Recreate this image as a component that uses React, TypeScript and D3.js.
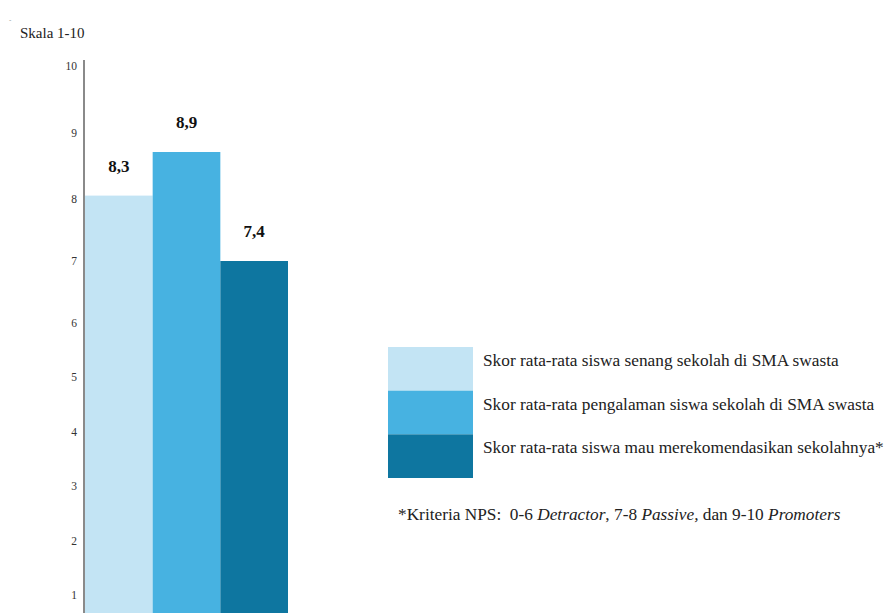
import React from "react";
import * as d3 from "d3";

const categories = ["senang", "pengalaman", "rekomendasi"];
const values = [8.3, 8.9, 7.4];
const valueLabels = ["8,3", "8,9", "7,4"];
const colors = ["#c3e4f4", "#47b2e1", "#0e76a0"];
const legendLabels = [
  "Skor rata-rata siswa senang sekolah di SMA swasta",
  "Skor rata-rata pengalaman siswa sekolah di SMA swasta",
  "Skor rata-rata siswa mau merekomendasikan sekolahnya*",
];
const tickValues = [1, 2, 3, 4, 5, 6, 7, 8, 9, 10];

const W = 887;
const H = 613;
const FONT = "Liberation Serif, DejaVu Serif, serif";

export default function App() {
  const x = d3.scaleBand<string>().domain(categories).range([85, 288]).padding(0);
  // bar value scale (fitted to the bar heights)
  const y = d3.scaleLinear().domain([7.4, 8.9]).range([261, 152]);
  // axis tick placement as drawn in the source image
  const yAxis = d3.scaleLinear().domain([1, 6, 8, 10]).range([595, 323, 199, 66]);
  const legendY = d3.scaleBand<string>().domain(categories).range([347, 478]).padding(0);

  return (
    <svg
      width={W}
      height={H}
      style={{ position: "absolute", left: 0, top: 0, background: "#fff", fontFamily: FONT }}
    >
      <rect width={W} height={H} fill="#fff" />
      <text x={9} y={22} fontSize={7} fill="#888">-</text>
      <text x={20} y={38} fontSize={15} fill="#222">Skala 1-10</text>

      {categories.map((c, i) => (
        <rect
          key={c}
          x={x(c)!}
          y={y(values[i])}
          width={x.bandwidth()}
          height={y(0) - y(values[i])}
          fill={colors[i]}
        />
      ))}
      {categories.map((c, i) => (
        <text
          key={c + "l"}
          x={x(c)! + x.bandwidth() / 2}
          y={y(values[i]) - 24}
          textAnchor="middle"
          fontSize={17}
          fontWeight="bold"
          fill="#111"
        >
          {valueLabels[i]}
        </text>
      ))}

      <line x1={84} x2={84} y1={60} y2={H} stroke="#8a8a8a" strokeWidth={2} />
      {tickValues.map((t) => (
        <text
          key={t}
          x={77}
          y={yAxis(t)}
          dy="0.35em"
          textAnchor="end"
          fontSize={11.5}
          fill="#333"
        >
          {t}
        </text>
      ))}

      {categories.map((c, i) => (
        <g key={c + "leg"}>
          <rect x={388} y={legendY(c)!} width={85} height={legendY.bandwidth()} fill={colors[i]} />
          <text
            x={483}
            y={legendY(c)! + legendY.bandwidth() / 2 - 9}
            dy="0.35em"
            fontSize={17.3}
            fill="#222"
          >
            {legendLabels[i]}
          </text>
        </g>
      ))}

      <text x={398} y={520} fontSize={17.3} fill="#222">
        *Kriteria NPS:{"\u00a0\u00a0"}0-6 <tspan fontStyle="italic">Detractor</tspan>, 7-8{" "}
        <tspan fontStyle="italic">Passive,</tspan> dan 9-10{" "}
        <tspan fontStyle="italic">Promoters</tspan>
      </text>
    </svg>
  );
}
